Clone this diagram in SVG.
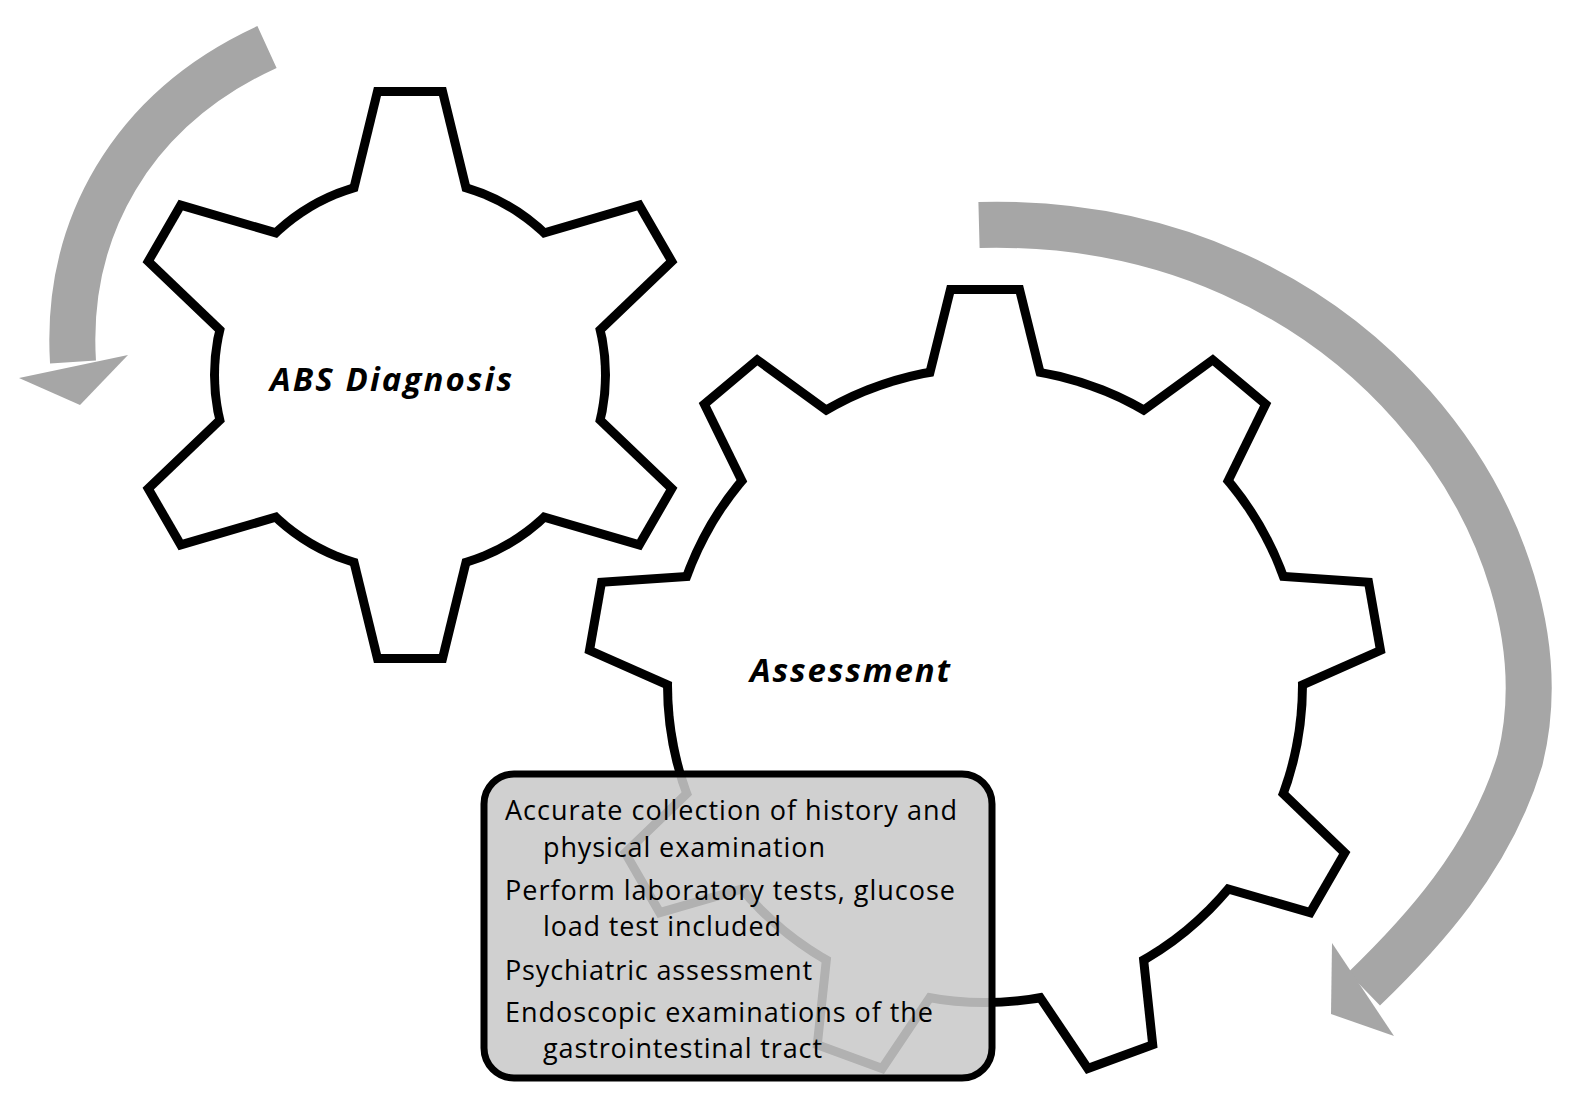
<svg xmlns="http://www.w3.org/2000/svg" xmlns:xlink="http://www.w3.org/1999/xlink" width="1571" height="1108" viewBox="0 0 1571 1108">
<style>
.o{fill:#000;stroke:#000;stroke-width:18;stroke-linejoin:miter}
.f{fill:#fff;stroke:none}
.arr{fill:none;stroke:#a6a6a6;stroke-width:46}
.head{fill:#a6a6a6}
.lbl{font-family:"Open Sans","Liberation Sans",sans-serif;font-weight:bold;font-style:italic;font-size:33px;fill:#000}
.t{font-family:"Open Sans","Liberation Sans",sans-serif;font-size:27px;fill:#000}
</style>
<defs>
<g id="sg">
<circle r="191"/>
<polygon points="-58,-160 -29,-279 29,-279 58,-160"/>
<polygon points="-58,-160 -29,-279 29,-279 58,-160" transform="rotate(60)"/>
<polygon points="-58,-160 -29,-279 29,-279 58,-160" transform="rotate(120)"/>
<polygon points="-58,-160 -29,-279 29,-279 58,-160" transform="rotate(180)"/>
<polygon points="-58,-160 -29,-279 29,-279 58,-160" transform="rotate(240)"/>
<polygon points="-58,-160 -29,-279 29,-279 58,-160" transform="rotate(300)"/>
</g>
<g id="bg">
<circle r="313"/>
<polygon points="-56,-290 -31,-391 31,-391 56,-290"/>
<polygon points="-56,-290 -31,-391 31,-391 56,-290" transform="rotate(40)"/>
<polygon points="-56,-290 -31,-391 31,-391 56,-290" transform="rotate(80)"/>
<polygon points="-56,-290 -31,-391 31,-391 56,-290" transform="rotate(120)"/>
<polygon points="-56,-290 -31,-391 31,-391 56,-290" transform="rotate(160)"/>
<polygon points="-56,-290 -31,-391 31,-391 56,-290" transform="rotate(200)"/>
<polygon points="-56,-290 -31,-391 31,-391 56,-290" transform="rotate(240)"/>
<polygon points="-56,-290 -31,-391 31,-391 56,-290" transform="rotate(280)"/>
<polygon points="-56,-290 -31,-391 31,-391 56,-290" transform="rotate(320)"/>
</g>
</defs>
<rect width="1571" height="1108" fill="#fff"/>
<g id="connectors">
<path class="arr" d="M267,47 C130,110 65,230 73,362"/>
<polygon class="head" points="19,378 128,355 80,405"/>
<path class="arr" d="M979,225 C1360,215 1575,540 1520,760 C1490,860 1420,935 1364,989"/>
<polygon class="head" points="1332,943 1331,1014 1394,1036"/>
</g>
<g id="gear-abs">
<use xlink:href="#sg" class="o" transform="translate(410,375)"/>
<use xlink:href="#sg" class="f" transform="translate(410,375)"/>
<text class="lbl" x="270" y="391" textLength="242">ABS Diagnosis</text>
</g>
<g id="gear-assessment">
<use xlink:href="#bg" class="o" transform="translate(985,685)"/>
<use xlink:href="#bg" class="f" transform="translate(985,685)"/>
<text class="lbl" x="750" y="682" textLength="200">Assessment</text>
</g>
<g id="box">
<rect x="484" y="774" width="508" height="304" rx="30" fill="#c9c9c9" fill-opacity="0.88" stroke="#000" stroke-width="7"/>
<text class="t" x="505" y="820" textLength="452">Accurate collection of history and</text>
<text class="t" x="543" y="857" textLength="282">physical examination</text>
<text class="t" x="505" y="900" textLength="450">Perform laboratory tests, glucose</text>
<text class="t" x="543" y="936" textLength="238">load test included</text>
<text class="t" x="505" y="980" textLength="307">Psychiatric assessment</text>
<text class="t" x="505" y="1022" textLength="428">Endoscopic examinations of the</text>
<text class="t" x="543" y="1058" textLength="279">gastrointestinal tract</text>
</g>
</svg>
